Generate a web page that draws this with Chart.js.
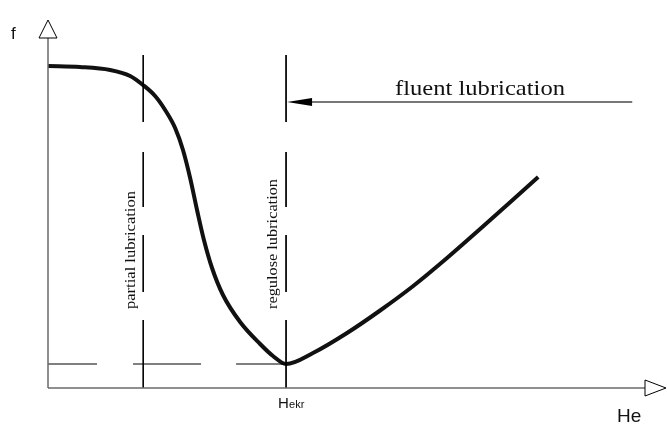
<!DOCTYPE html>
<html>
<head>
<meta charset="utf-8">
<script src="https://cdn.jsdelivr.net/npm/chart.js@4.4.1/dist/chart.umd.min.js"></script>
<style>
  html, body { margin: 0; padding: 0; background: #fff; }
  #wrap { width: 667px; height: 424px; }
</style>
</head>
<body>
<div id="wrap"><canvas id="stribeck" width="667" height="424"></canvas></div>
<script>
// Stribeck curve: friction f over He, He in units of H_ekr
const curveHe = [0, 0.134, 0.261, 0.345, 0.399, 0.450, 0.492, 0.534, 0.567, 0.597, 0.626, 0.655,
                 0.689, 0.735, 0.807, 0.891, 0.945, 1.0, 1.113, 1.256, 1.395, 1.534, 1.676, 1.815, 1.954, 2.059];
const curveF  = [3.22, 3.21, 3.18, 3.12, 3.03, 2.92, 2.78, 2.60, 2.38, 2.10, 1.78, 1.48,
                 1.20, 0.93, 0.66, 0.44, 0.32, 0.24, 0.35, 0.55, 0.775, 1.02, 1.30, 1.59, 1.885, 2.11];

// regime boundaries
const partialHe = 0.4;
const hekrHe = 1.0;
const fMin = 0.24;
const fluentF = 2.86;
const fluentEndHe = 2.454;

// dash pieces of the helper lines
const vertDashes = [[3.33, 2.66], [2.36, 1.81], [1.53, 0.96], [0.68, 0]];
const horizDashes = [[0, 0.206], [0.357, 0.643], [0.790, 1.0]];

// axis ranges
const heMax = 2.6;
const fMax = 3.68;

const labels = {
    f: 'f',
    he: 'He',
    hekr: ['H', 'ekr'],
    partial: 'partial lubrication',
    regulose: 'regulose lubrication',
    fluent: 'fluent lubrication'
};

function verticalPieces(he) {
    const pts = [];
    vertDashes.forEach(d => {
        pts.push({x: he, y: d[0]}, {x: he, y: d[1]}, {x: he, y: null});
    });
    return pts;
}

function horizontalPieces(f) {
    const pts = [];
    horizDashes.forEach(d => {
        pts.push({x: d[0], y: f}, {x: d[1], y: f}, {x: d[1], y: null});
    });
    return pts;
}

const thinLine = {
    showLine: true,
    borderColor: '#000',
    borderWidth: 1,
    pointRadius: 0,
    spanGaps: false,
    tension: 0
};

// axes, arrows and labels drawn on top of the chart area
const decorPlugin = {
    id: 'decor',
    afterDatasetsDraw(chart) {
        const ctx = chart.ctx;
        const xs = chart.scales.x;
        const ys = chart.scales.y;
        const x0 = xs.getPixelForValue(0);
        const y0 = ys.getPixelForValue(0);
        const yTop = ys.getPixelForValue(fMax);
        const xEnd = xs.getPixelForValue(heMax);

        ctx.save();
        // axes
        ctx.strokeStyle = '#6b6b6b';
        ctx.lineWidth = 1.5;
        ctx.beginPath();
        ctx.moveTo(x0, y0);
        ctx.lineTo(x0, yTop + 18);
        ctx.moveTo(x0, y0);
        ctx.lineTo(xEnd - 21, y0);
        ctx.stroke();

        // hollow arrowheads
        ctx.strokeStyle = '#000';
        ctx.lineWidth = 1;
        ctx.fillStyle = '#fff';
        ctx.beginPath();
        ctx.moveTo(x0, yTop);
        ctx.lineTo(x0 - 9, yTop + 18);
        ctx.lineTo(x0 + 9, yTop + 18);
        ctx.closePath();
        ctx.fill();
        ctx.stroke();
        ctx.beginPath();
        ctx.moveTo(xEnd - 1, y0);
        ctx.lineTo(xEnd - 22, y0 - 8);
        ctx.lineTo(xEnd - 22, y0 + 8);
        ctx.closePath();
        ctx.fill();
        ctx.stroke();

        // fluent lubrication arrow
        const fy = ys.getPixelForValue(fluentF);
        const fx0 = xs.getPixelForValue(hekrHe);
        const fx1 = xs.getPixelForValue(fluentEndHe);
        ctx.strokeStyle = '#777';
        ctx.lineWidth = 2;
        ctx.beginPath();
        ctx.moveTo(fx0 + 20, fy);
        ctx.lineTo(fx1, fy);
        ctx.stroke();
        ctx.fillStyle = '#000';
        ctx.beginPath();
        ctx.moveTo(fx0 + 1, fy);
        ctx.lineTo(fx0 + 26, fy - 4);
        ctx.lineTo(fx0 + 26, fy + 4);
        ctx.closePath();
        ctx.fill();

        // serif labels, stretched along the baseline
        ctx.fillStyle = '#111';
        ctx.textBaseline = 'alphabetic';
        ctx.textAlign = 'left';
        drawStretched(ctx, labels.fluent, 395, fy - 7, 0, '21px "Liberation Serif"', 170);
        drawStretched(ctx, labels.partial, xs.getPixelForValue(partialHe) - 8, 309, -Math.PI / 2, '14px "Liberation Serif"', 118);
        drawStretched(ctx, labels.regulose, xs.getPixelForValue(hekrHe) - 9, 309, -Math.PI / 2, '14px "Liberation Serif"', 130);

        // sans labels
        ctx.font = '17px "Liberation Sans"';
        ctx.fillText(labels.f, 11, 39);
        ctx.font = '19px "Liberation Sans"';
        ctx.fillText(labels.he, 617, 422);
        const hx = xs.getPixelForValue(hekrHe);
        ctx.font = '15px "Liberation Sans"';
        ctx.fillText(labels.hekr[0], hx - 8, 408);
        ctx.font = '11px "Liberation Sans"';
        ctx.fillText(labels.hekr[1], hx + 3, 408);
        ctx.restore();
    }
};

function drawStretched(ctx, text, x, y, angle, font, width) {
    ctx.save();
    ctx.font = font;
    const w = ctx.measureText(text).width;
    ctx.translate(x, y);
    ctx.rotate(angle);
    ctx.scale(width / w, 1);
    ctx.fillText(text, 0, 0);
    ctx.restore();
}

const canvas = document.getElementById('stribeck');
new Chart(canvas.getContext('2d'), {
    type: 'scatter',
    data: {
        datasets: [
            Object.assign({data: verticalPieces(partialHe)}, thinLine),
            Object.assign({data: verticalPieces(hekrHe)}, thinLine),
            Object.assign({data: horizontalPieces(fMin)}, thinLine),
            {
                data: curveHe.map((h, i) => ({x: h, y: curveF[i]})),
                showLine: true,
                borderColor: '#111',
                borderWidth: 4,
                pointRadius: 0,
                cubicInterpolationMode: 'monotone',
                borderCapStyle: 'butt'
            }
        ]
    },
    options: {
        responsive: false,
        animation: false,
        layout: {padding: {left: 48, top: 20, right: 0, bottom: 36}},
        plugins: {legend: {display: false}, tooltip: {enabled: false}},
        scales: {
            x: {type: 'linear', min: 0, max: heMax, display: false},
            y: {type: 'linear', min: 0, max: fMax, display: false}
        }
    },
    plugins: [decorPlugin]
});
</script>
</body>
</html>
